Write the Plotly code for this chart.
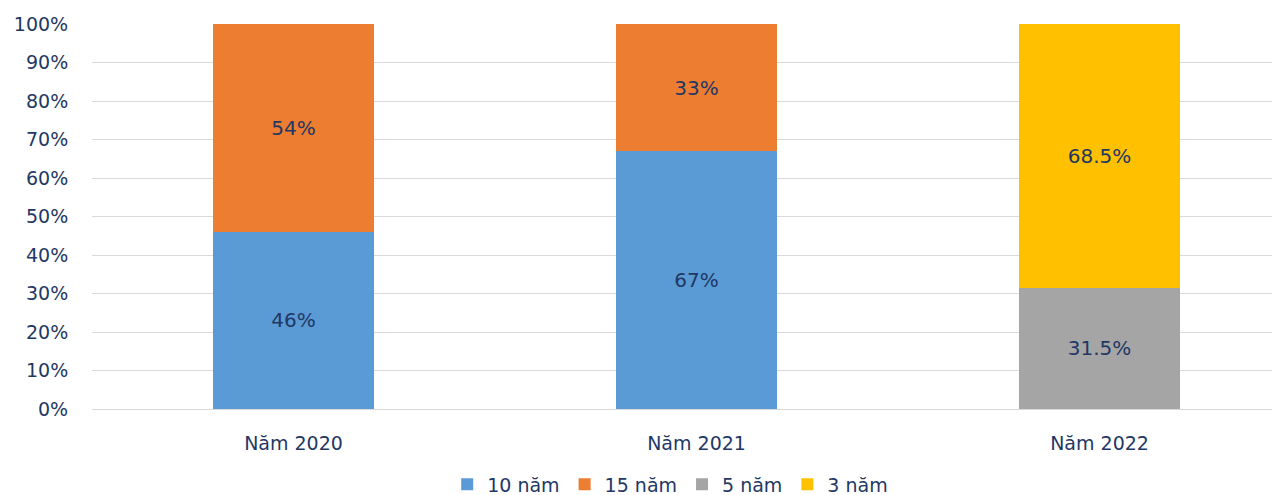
import plotly.graph_objects as go

categories = ["Năm 2020", "Năm 2021", "Năm 2022"]
series_names = ["10 năm", "15 năm", "5 năm", "3 năm"]
values_10 = [46, 67, None]
values_15 = [54, 33, None]
values_5 = [None, None, 31.5]
values_3 = [None, None, 68.5]
labels_10 = ["46%", "67%", ""]
labels_15 = ["54%", "33%", ""]
labels_5 = ["", "", "31.5%"]
labels_3 = ["", "", "68.5%"]
colors = ["#5B9BD5", "#ED7D31", "#A5A5A5", "#FFC000"]
y_ticks = [0, 10, 20, 30, 40, 50, 60, 70, 80, 90, 100]
y_tick_labels = [f"{v}%" for v in y_ticks]

FONT = "DejaVu Sans"
TXT = "#1F3864"

fig = go.Figure()
for name, vals, labs, col in zip(series_names,
                                  [values_10, values_15, values_5, values_3],
                                  [labels_10, labels_15, labels_5, labels_3],
                                  colors):
    fig.add_trace(go.Bar(
        name=name, x=categories, y=vals, text=labs,
        marker=dict(color=col, line=dict(width=0)),
        textposition="inside", insidetextanchor="middle",
        textfont=dict(family=FONT, size=20, color=TXT),
        width=0.4,
    ))

fig.update_layout(
    barmode="stack",
    width=1272, height=495,
    margin=dict(l=92, r=0, t=24, b=86, autoexpand=False),
    paper_bgcolor="white", plot_bgcolor="white",
    font=dict(family=FONT, size=19, color=TXT),
    showlegend=True,
    legend=dict(orientation="h", x=0.49, xanchor="center",
                yref="paper", y=-0.196, yanchor="middle",
                font=dict(family=FONT, size=19, color=TXT), traceorder="normal",
                itemwidth=30, tracegroupgap=0),
    uniformtext=dict(mode=False),
)
fig.update_xaxes(range=[-0.5, 2.428], showgrid=False, showline=False,
                 ticks="outside", ticklen=17, tickcolor="rgba(0,0,0,0)",
                 tickfont=dict(family=FONT, size=19, color=TXT), fixedrange=True,
                 automargin=False)
fig.update_yaxes(range=[0, 100], tickvals=y_ticks, ticktext=y_tick_labels,
                 showgrid=True, gridcolor="#D9D9D9", gridwidth=1,
                 zeroline=True, zerolinecolor="#D9D9D9", zerolinewidth=1,
                 showline=False, ticks="outside", ticklen=19, tickcolor="rgba(0,0,0,0)",
                 tickfont=dict(family=FONT, size=19, color=TXT), automargin=False)

fig.write_html("out.html")
